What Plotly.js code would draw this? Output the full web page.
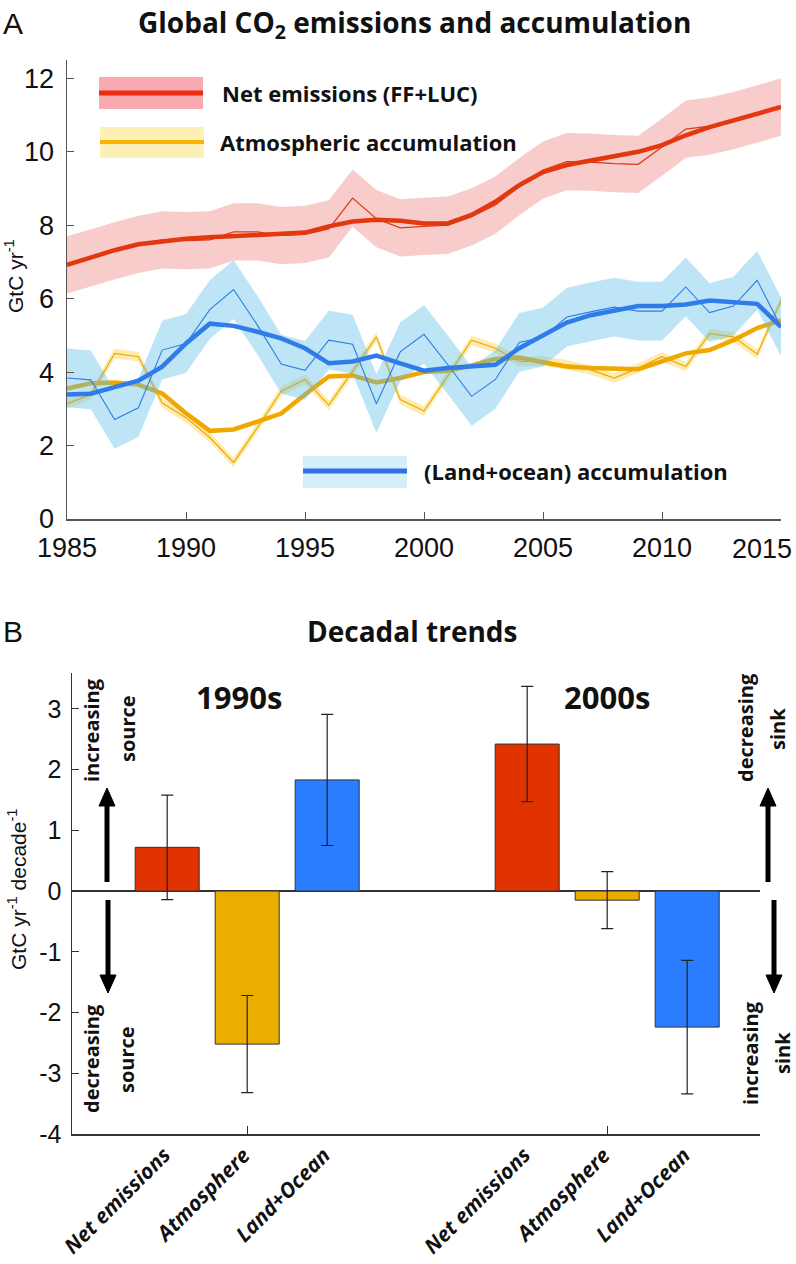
<!DOCTYPE html>
<html><head><meta charset="utf-8">
<script src="https://cdn.plot.ly/plotly-3.0.1.min.js"></script>
<style>body{margin:0;background:#fff}#chart{width:796px;height:1264px}</style>
</head><body><div id="chart"></div>
<script>
// ---------- Panel A data ----------
const years = [1985,1986,1987,1988,1989,1990,1991,1992,1993,1994,1995,1996,1997,1998,1999,2000,
               2001,2002,2003,2004,2005,2006,2007,2008,2009,2010,2011,2012,2013,2014,2015];
const netAnnual = [6.92,7.12,7.30,7.48,7.60,7.58,7.60,7.82,7.82,7.72,7.75,7.90,8.74,8.18,7.93,7.97,
                   8.00,8.23,8.55,9.05,9.50,9.73,9.72,9.68,9.66,10.13,10.62,10.70,10.85,11.03,11.22];
const netSmooth = [6.92,7.12,7.32,7.48,7.57,7.63,7.67,7.70,7.72,7.74,7.80,7.97,8.10,8.15,8.12,8.05,
                   8.05,8.28,8.64,9.09,9.45,9.64,9.77,9.90,10.00,10.18,10.45,10.67,10.85,11.03,11.22];
const atmAnnual = [3.14,3.39,4.51,4.42,3.16,2.76,2.22,1.54,2.49,3.48,3.80,3.10,4.02,4.96,3.25,2.94,
                   3.90,4.87,4.65,4.29,4.30,4.20,4.06,3.84,4.11,4.42,4.15,5.05,4.96,4.49,5.95];
const atmSmooth = [3.55,3.70,3.72,3.66,3.42,2.88,2.40,2.44,2.65,2.87,3.39,3.88,3.91,3.72,3.84,4.00,
                   4.04,4.18,4.36,4.40,4.27,4.15,4.11,4.08,4.08,4.29,4.51,4.60,4.87,5.20,5.41];
const landAnnual = [3.84,3.79,2.71,3.03,4.60,4.78,5.70,6.25,5.28,4.22,4.05,4.87,4.76,3.14,4.55,5.03,
                    4.20,3.34,3.80,4.81,4.95,5.50,5.64,5.77,5.66,5.66,6.32,5.62,5.80,6.50,5.23];
const landSmooth = [3.39,3.41,3.59,3.77,4.15,4.78,5.32,5.26,5.10,4.92,4.65,4.24,4.29,4.45,4.24,4.04,
                    4.11,4.15,4.20,4.65,5.00,5.35,5.55,5.68,5.80,5.80,5.84,5.95,5.89,5.86,5.23];
const netUnc = 0.78, atmUnc = 0.13, landUnc = 0.8;
const seriesNames = ['Net emissions (FF+LUC)','Atmospheric accumulation','(Land+ocean) accumulation'];
const yTicksA = [0,2,4,6,8,10,12];
const xTicksA = [1985,1990,1995,2000,2005,2010,2015];

// ---------- Panel B data ----------
const categories = ['Net emissions','Atmosphere','Land+Ocean'];
const decades = ['1990s','2000s'];
const trend1990s = [0.72,-2.52,1.83];
const err1990s   = [0.86,0.80,1.08];
const trend2000s = [2.42,-0.15,-2.24];
const err2000s   = [0.95,0.47,1.10];
const yTicksB = [-4,-3,-2,-1,0,1,2,3];

// ---------- helpers / styles ----------
const W = 796, H = 1264;
const px = x => x / W, py = y => 1 - y / H;
const REG = "'Liberation Sans',Arial,sans-serif";
const BOLD = "'Open Sans','Noto Sans',sans-serif";
const RED = '#E2380F', YEL = '#F0A800', BLUE = '#2F7BEA';
const barColors = ['#E03300','#EBAE00','#2A7DFF'];

const traces = [];
function band(y, u, fill) {
  traces.push({x: years, y: y.map(v => v - u), type:'scatter', mode:'lines', line:{width:0}, hoverinfo:'skip', xaxis:'x', yaxis:'y'});
  traces.push({x: years, y: y.map(v => v + u), type:'scatter', mode:'lines', line:{width:0}, fill:'tonexty', fillcolor: fill, hoverinfo:'skip', xaxis:'x', yaxis:'y'});
}
function line(y, color, w) {
  traces.push({x: years, y: y, type:'scatter', mode:'lines', line:{color: color, width: w}, xaxis:'x', yaxis:'y'});
}
band(netAnnual, netUnc, 'rgba(240,120,120,0.38)');
line(netAnnual, RED, 1.2);
line(netSmooth, RED, 4.5);
band(atmAnnual, atmUnc, 'rgba(250,210,80,0.45)');
line(atmAnnual, YEL, 1.2);
line(atmSmooth, YEL, 4.5);
band(landAnnual, landUnc, 'rgba(90,190,230,0.4)');
line(landAnnual, BLUE, 1.1);
line(landSmooth, BLUE, 4.5);

// bars
const pos = (g, c) => 1 + g * 4.5 + c;
categories.forEach((cat, c) => {
  traces.push({
    type:'bar', xaxis:'x2', yaxis:'y2', name: cat,
    x: decades.map((d, g) => pos(g, c)),
    y: [trend1990s[c], trend2000s[c]],
    width: 0.8,
    marker: {color: barColors[c], line:{color:'#333', width:1}},
    error_y: {type:'data', array:[err1990s[c], err2000s[c]], color:'#222', thickness:1.2, width:6}
  });
});

const annotations = [];
const ann = (x, y, text, o) => annotations.push(Object.assign({x: px(x), y: py(y), xref:'paper', yref:'paper',
  xanchor:'center', yanchor:'middle', text: text, showarrow:false}, o));
const bf = (size) => ({family:BOLD, size:size, color:'#111', weight:700});

ann(13, 24, 'A', {font:{family:REG, size:30, color:'#111'}});
ann(415, 24, '<b>Global CO<sub>2</sub> emissions and accumulation</b>', {font:bf(28)});
ann(14, 276, 'GtC yr<sup>-1</sup>', {textangle:-90, font:{family:REG, size:21, color:'#111'}});
ann(220, 93, '<b>' + seriesNames[0] + '</b>', {xanchor:'left', font:bf(22)});
ann(218, 142, '<b>' + seriesNames[1] + '</b>', {xanchor:'left', font:bf(22)});
ann(422, 471, '<b>' + seriesNames[2] + '</b>', {xanchor:'left', font:bf(22)});
// last year label, kept inside the page (the tick itself stays on the axis)
ann(794, 549, String(xTicksA[xTicksA.length - 1]), {xanchor:'right', font:{family:REG, size:27, color:'#111'}});

ann(13, 631, 'B', {font:{family:REG, size:30, color:'#111'}});
ann(412, 631, '<b>Decadal trends</b>', {font:bf(28)});
ann(17, 889, 'GtC yr<sup>-1</sup> decade<sup>-1</sup>', {textangle:-90, font:{family:REG, size:21, color:'#111'}});
ann(239, 697, '<b>' + decades[0] + '</b>', {font:bf(31)});
ann(607, 697, '<b>' + decades[1] + '</b>', {font:bf(31)});
const sideFont = bf(20);
ann(91, 730, '<b>increasing</b>', {textangle:-90, font:sideFont});
ann(127, 729, '<b>source</b>', {textangle:-90, font:sideFont});
ann(91, 1059, '<b>decreasing</b>', {textangle:-90, font:sideFont});
ann(126, 1060, '<b>source</b>', {textangle:-90, font:sideFont});
ann(745, 728, '<b>decreasing</b>', {textangle:-90, font:sideFont});
ann(777, 729, '<b>sink</b>', {textangle:-90, font:sideFont});
ann(750, 1053, '<b>increasing</b>', {textangle:-90, font:sideFont});
ann(782, 1053, '<b>sink</b>', {textangle:-90, font:sideFont});

// category labels
decades.forEach((d, g) => categories.forEach((cat, c) => {
  annotations.push({x: pos(g, c), xref:'x2', y: py(1138), yref:'paper', xshift: 12,
    text:'<b><i>' + cat + '</i></b>', showarrow:false, textangle:-45, xanchor:'right', yanchor:'top',
    font:bf(21)});
}));

const shapes = [
  {type:'rect', xref:'paper', yref:'paper', x0:px(99), x1:px(203), y0:py(109), y1:py(77), fillcolor:'#F8AAB0', line:{width:0}},
  {type:'line', xref:'paper', yref:'paper', x0:px(99), x1:px(203), y0:py(93), y1:py(93), line:{color:'#EE2A10', width:5}},
  {type:'rect', xref:'paper', yref:'paper', x0:px(100), x1:px(204), y0:py(158), y1:py(127), fillcolor:'#FDF0B4', line:{width:0}},
  {type:'line', xref:'paper', yref:'paper', x0:px(100), x1:px(204), y0:py(142), y1:py(142), line:{color:'#F6B300', width:4}},
  {type:'rect', xref:'paper', yref:'paper', x0:px(303), x1:px(407), y0:py(488), y1:py(456), fillcolor:'#D5EFF9', line:{width:0}},
  {type:'line', xref:'paper', yref:'paper', x0:px(303), x1:px(407), y0:py(471), y1:py(471), line:{color:'#2F6FE8', width:5}}
];
// direction arrows (shaft + head)
function arrowShape(x, yTail, yHead) {
  const dir = yHead < yTail ? -1 : 1;
  const yBase = yHead - dir * 18;
  shapes.push({type:'line', xref:'paper', yref:'paper', x0:px(x), x1:px(x), y0:py(yTail), y1:py(yBase), line:{color:'#000', width:5}});
  shapes.push({type:'path', xref:'paper', yref:'paper',
    path:`M ${px(x-8)} ${py(yBase)} L ${px(x+8)} ${py(yBase)} L ${px(x)} ${py(yHead)} Z`,
    fillcolor:'#000', line:{color:'#000', width:1}});
}
arrowShape(107, 882, 788);
arrowShape(108, 900, 993);
arrowShape(768, 882, 788);
arrowShape(774, 900, 993);

const tickFontA = {family:REG, size:27, color:'#111'};
const tickFontB = {family:REG, size:25, color:'#111'};
const layout = {
  width: W, height: H, margin:{l:0,r:0,t:0,b:0}, showlegend:false,
  paper_bgcolor:'#fff', plot_bgcolor:'rgba(0,0,0,0)', barmode:'overlay',
  xaxis: {domain:[px(67), px(781)], anchor:'y', range:[1985,2015], tickvals:xTicksA,
          ticktext: xTicksA.map((v, i) => i === xTicksA.length - 1 ? ' ' : String(v)), ticks:'inside', ticklen:7,
          tickcolor:'#555', showline:true, linecolor:'#555', linewidth:1.5, showgrid:false, zeroline:false,
          tickfont:tickFontA, ticklabelstandoff:4},
  yaxis: {domain:[py(519), py(60)], anchor:'x', range:[0,12.5], tickvals:yTicksA, ticks:'inside', ticklen:7,
          tickcolor:'#555', showline:true, linecolor:'#555', linewidth:1.5, showgrid:false, zeroline:false,
          tickfont:tickFontA, ticklabelstandoff:6},
  xaxis2: {domain:[px(72), px(760)], anchor:'y2', range:[-0.19, 8.41], tickvals: decades.map((d,g) => pos(g,1)),
           showticklabels:false, ticks:'inside', ticklen:8, tickcolor:'#333', showline:true, linecolor:'#333',
           linewidth:1.5, showgrid:false, zeroline:false},
  yaxis2: {domain:[py(1134), py(673)], anchor:'x2', range:[-4, 3.59], tickvals:yTicksB, ticktext:yTicksB.map(String),
           ticks:'inside', ticklen:7, tickcolor:'#333', showline:true, linecolor:'#333', linewidth:1.5, showgrid:false,
           zeroline:true, zerolinecolor:'#333', zerolinewidth:1.2, tickfont:tickFontB, ticklabelstandoff:4},
  annotations: annotations, shapes: shapes
};
Plotly.newPlot('chart', traces, layout, {staticPlot:true});
</script></body></html>
